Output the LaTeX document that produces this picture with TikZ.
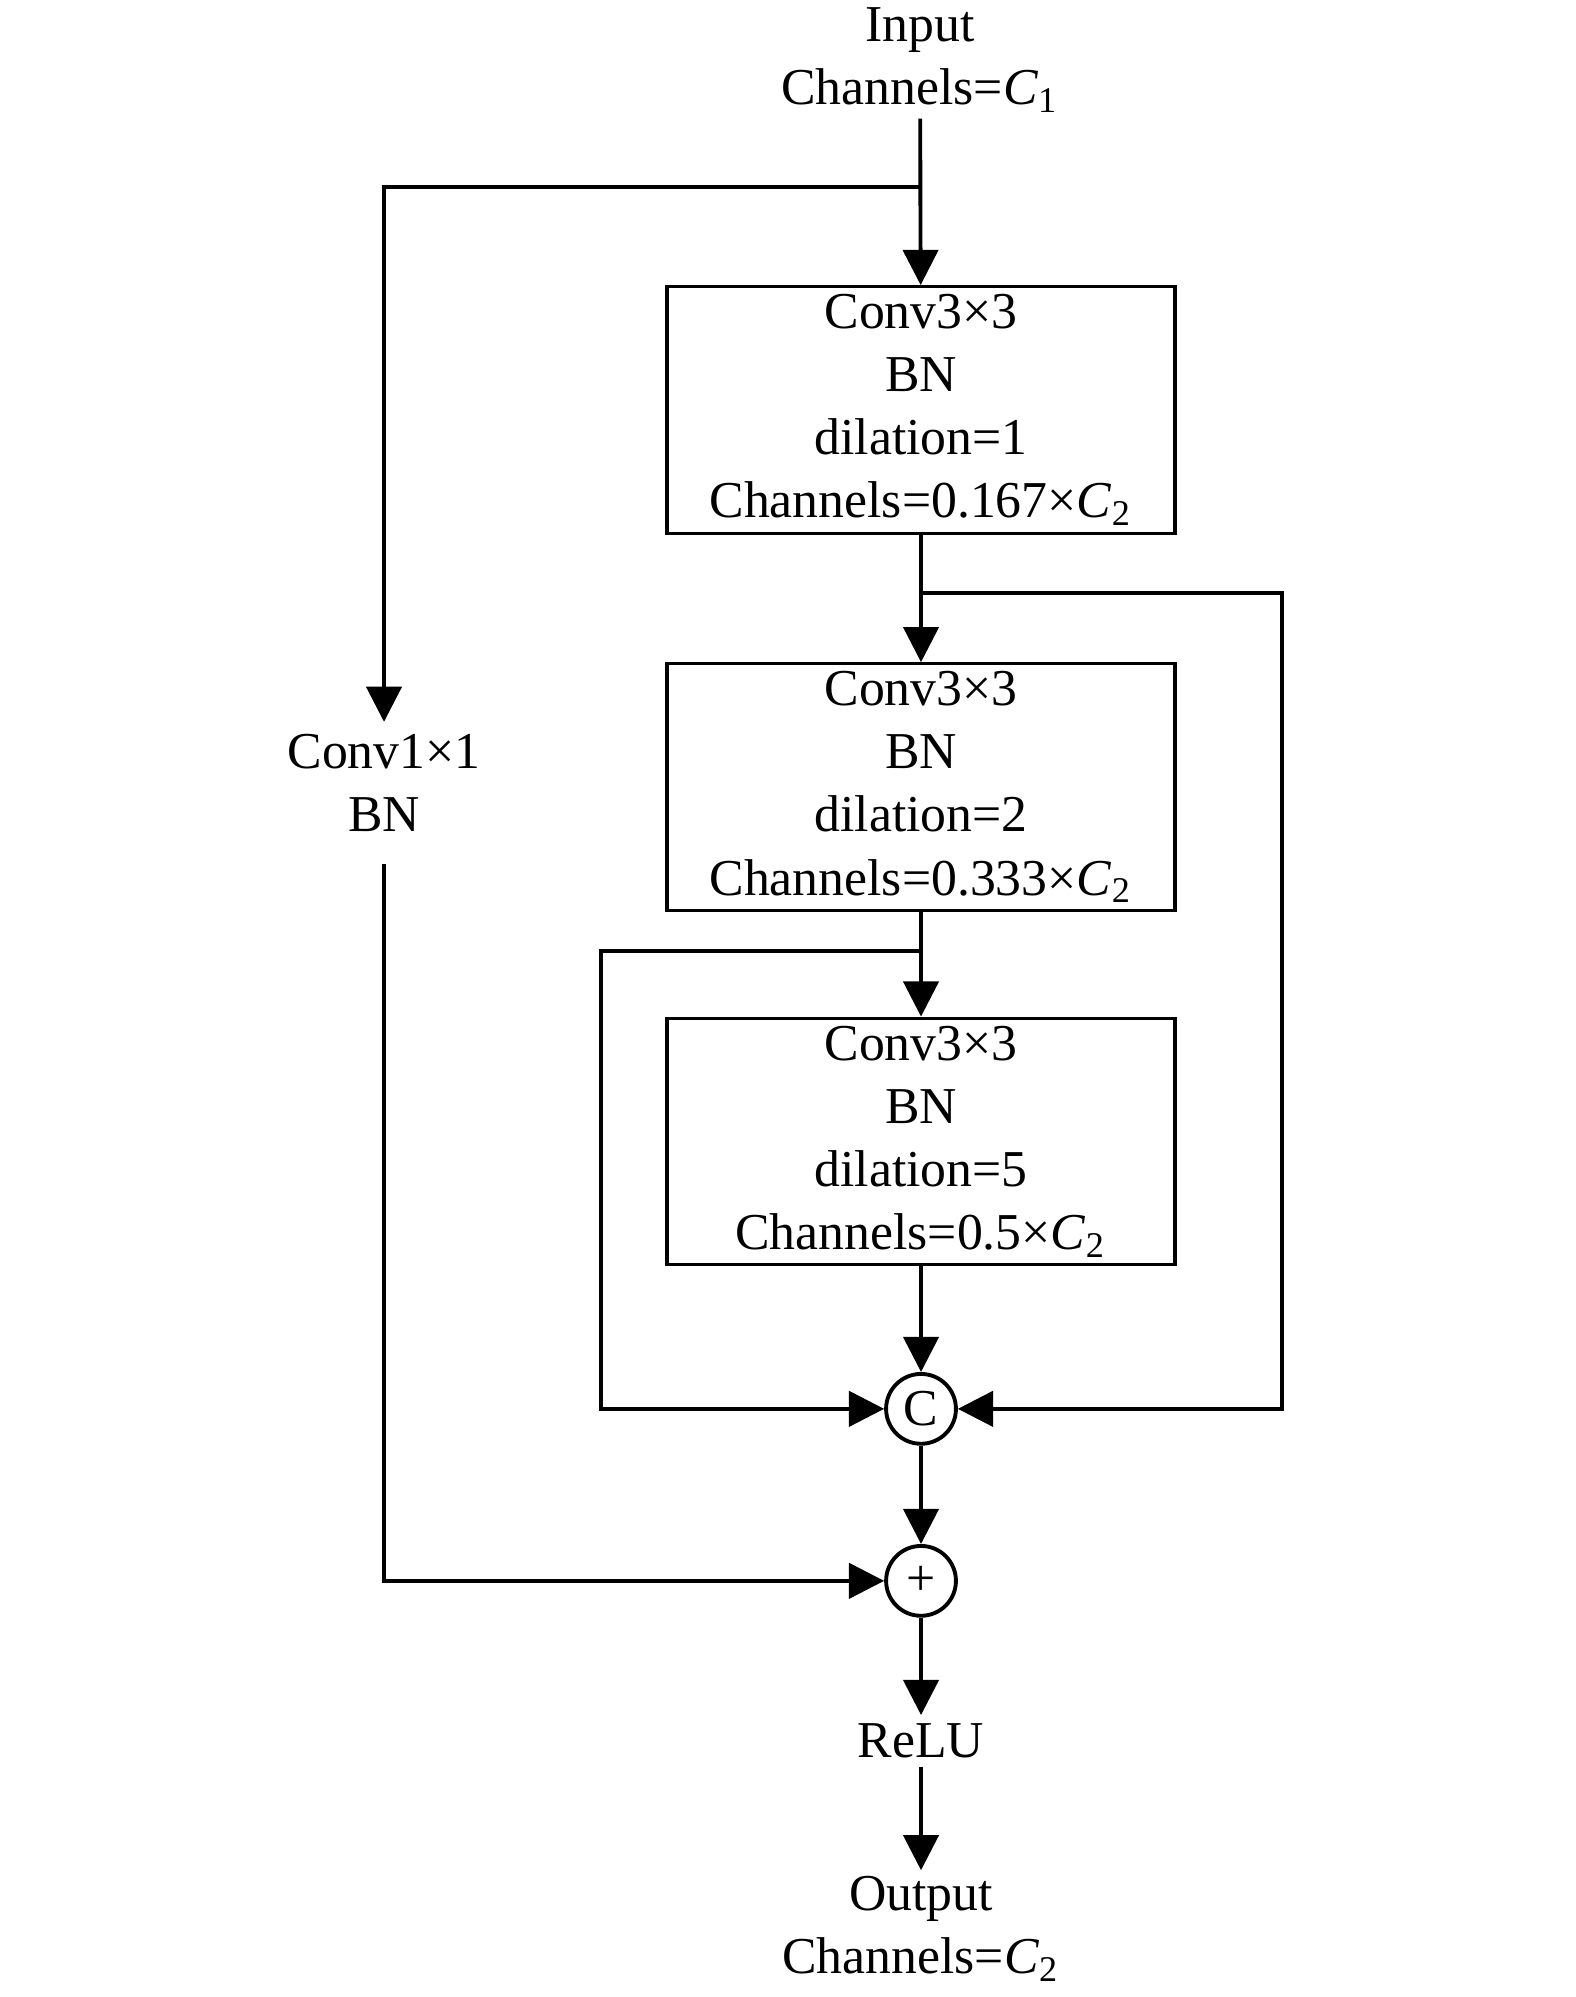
\documentclass[tikz,border=0pt]{standalone}
\usepackage{fontspec}
\setmainfont{Liberation Serif}
\usetikzlibrary{arrows.meta, positioning}
\newcommand{\chan}[1]{\textit{C}\textsubscript{#1}}
\tikzset{
  block/.style={
    rectangle, draw, line width=0.6pt, minimum width=98.2pt, minimum height=47.7pt,
    align=center, inner sep=0pt, font=\fontsize{10pt}{12.2pt}\selectfont
  },
  txt/.style={
    align=center, inner sep=1pt, font=\fontsize{10pt}{12.2pt}\selectfont
  },
  op/.style={
    circle, draw, line width=0.75pt, minimum size=13.5pt, inner sep=0pt,
    font=\fontsize{10pt}{12pt}\selectfont
  },
  flow/.style={
    -{Triangle[length=6.8pt,width=6.8pt]}, line width=0.75pt
  }
}

\begin{document}
\begin{tikzpicture}[x=0.1933pt, y=-0.1933pt]
  \useasboundingbox (0,0) rectangle (1575,1997);

  % Input
  \node[txt] (inp) at (920,60) {Input\\Channels=\chan{1}};

  % Dilated branch
  \node[block] (conv1) at (921,410) {Conv3×3\\BN\\dilation=1\\Channels=0.167×\chan{2}};
  \node[block, below=24.6pt of conv1] (conv2) {Conv3×3\\BN\\dilation=2\\Channels=0.333×\chan{2}};
  \node[block, below=20.2pt of conv2] (conv3) {Conv3×3\\BN\\dilation=5\\Channels=0.5×\chan{2}};
  \node[op, below=20.4pt of conv3] (cat) {C};
  \node[op, below=19.0pt of cat] (add) {+};

  % Shortcut
  \node[txt] (short) at (384,783) {Conv1×1\\BN};

  % Output
  \node[txt, inner sep=1.5pt] (relu) at (921,1741) {ReLU};
  \node[txt] (out) at (921,1929) {Output\\Channels=\chan{2}};

  % Split points
  \coordinate (s1) at (921,187);
  \coordinate (s2) at (921,593);
  \coordinate (s3) at (921,951);
  \coordinate (rgt) at (1282,593);
  \coordinate (lft) at (601,951);

  % Arrows
  \draw[flow] (inp) -- (conv1);
  \draw[flow, shorten >=1.2pt] (s1) -| (short);
  \draw[flow] (conv1) -- (conv2);
  \draw[flow] (conv2) -- (conv3);
  \draw[flow] (conv3) -- (cat);
  \draw[flow] (s2) -- (rgt) |- (cat);
  \draw[flow] (s3) -- (lft) |- (cat);
  \draw[flow] (cat) -- (add);
  \draw[flow, shorten <=5pt] (short) |- (add);
  \draw[flow] (add) -- (relu);
  \draw[flow] (relu) -- (out);

\end{tikzpicture}
\end{document}
